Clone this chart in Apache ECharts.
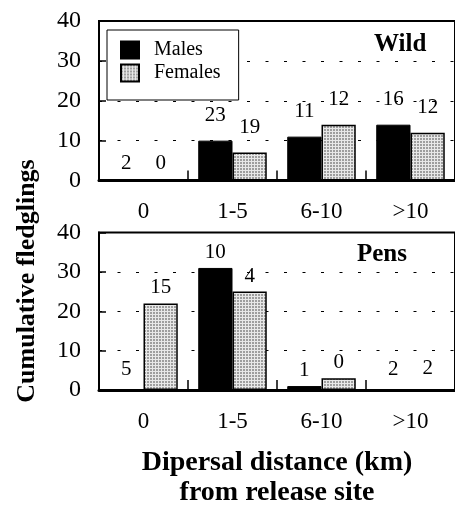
<!DOCTYPE html>
<html>
<head>
<meta charset="utf-8">
<script src="https://cdn.jsdelivr.net/npm/echarts@6/dist/echarts.min.js"></script>
<style>
  html, body { margin: 0; padding: 0; background: #fff; }
  #chart { width: 455px; height: 509px; }
</style>
</head>
<body>
<div id="chart"></div>
<script>
// Distance classes (km from release site)
const categories = ['0', '1-5', '6-10', '>10'];

// Cumulative fledglings (bar heights)
const wildMales = [0, 10, 11, 14];
const wildFemales = [0, 7, 14, 12];
const pensMales = [0, 31, 1, 0];
const pensFemales = [22, 25, 3, 0];

// Sample sizes printed above the bars
const wildMalesN = [2, 23, 11, 16];
const wildFemalesN = [0, 19, 12, 12];
const pensMalesN = [5, 10, 1, 2];
const pensFemalesN = [15, 4, 0, 2];

const yMin = 0, yMax = 40, yStep = 10;

const SERIF = '"Liberation Serif", "Times New Roman", serif';

// Fine stippled grey fill for the female bars
function stipple() {
  const c = document.createElement('canvas');
  c.width = 3; c.height = 3;
  const g = c.getContext('2d');
  g.fillStyle = '#e8e8e8';
  g.fillRect(0, 0, 3, 3);
  g.fillStyle = '#9e9e9e';
  g.fillRect(0, 0, 2, 2);
  return c;
}
const femaleFill = { image: stipple(), repeat: 'repeat' };

const chart = echarts.init(document.getElementById('chart'), null, { renderer: 'canvas' });

const grids = [
  { left: 99, top: 21, width: 358, height: 159.5 },
  { left: 99, top: 232.5, width: 358, height: 159.2 }
];

function xAxisFor(idx, withName) {
  const ax = {
    type: 'category',
    gridIndex: idx,
    data: categories,
    axisLine: { lineStyle: { color: '#000', width: 3 } },
    axisTick: { show: true, inside: true, length: 10, alignWithLabel: false,
                lineStyle: { color: '#000', width: 1.5 } },
    axisLabel: { margin: 20, color: '#000', fontSize: 23, fontFamily: SERIF },
    splitLine: { show: false }
  };
  if (withName) {
    ax.name = 'Dipersal distance (km)\nfrom release site';
    ax.nameLocation = 'middle';
    ax.nameGap = 58;
    ax.nameTextStyle = { color: '#000', fontSize: 28, fontWeight: 'bold',
                         fontFamily: SERIF, lineHeight: 30 };
  }
  return ax;
}

function yAxisFor(idx) {
  return {
    type: 'value',
    gridIndex: idx,
    min: yMin, max: yMax, interval: yStep,
    axisLine: { show: true, lineStyle: { color: '#000', width: 2 } },
    axisTick: { show: true, inside: true, length: 7, lineStyle: { color: '#000', width: 1.5 } },
    axisLabel: { margin: 18, color: '#000', fontSize: 24, fontFamily: SERIF },
    splitLine: { show: true, lineStyle: { color: '#000', width: 1, type: [3, 15.5] } }
  };
}

function barSeries(name, idx, values, counts, fill, borderW, dist, zeroDist) {
  return {
    name: name,
    type: 'bar',
    xAxisIndex: idx,
    yAxisIndex: idx,
    barGap: '0%',
    barCategoryGap: '23%',
    data: values.map(v => ({ value: v, label: { distance: v === 0 ? zeroDist : dist } })),
    itemStyle: { color: fill, borderColor: '#000', borderWidth: borderW },
    label: {
      show: true,
      position: 'top',
      color: '#000',
      fontSize: 21,
      fontFamily: SERIF,
      formatter: p => String(counts[p.dataIndex])
    },
    emphasis: { disabled: true },
    z: 3
  };
}

const option = {
  backgroundColor: '#fff',
  animation: false,
  textStyle: { fontFamily: SERIF },
  grid: grids.map(g => Object.assign({ show: true, borderColor: '#000', borderWidth: 2,
                                       backgroundColor: 'transparent' }, g)),
  title: [
    { text: 'Wild', left: 374, top: 32, padding: 0,
      textStyle: { fontSize: 25, fontWeight: 'bold', color: '#000', fontFamily: SERIF } },
    { text: 'Pens', left: 357, top: 242, padding: 0,
      textStyle: { fontSize: 25, fontWeight: 'bold', color: '#000', fontFamily: SERIF } }
  ],
  legend: {
    data: ['Males', 'Females'],
    orient: 'vertical',
    left: 107, top: 30,
    padding: [10, 18, 17, 13],
    itemWidth: 18, itemHeight: 17, itemGap: 3,
    icon: 'rect',
    borderColor: '#000', borderWidth: 1,
    backgroundColor: '#fff',
    selectedMode: false,
    textStyle: { color: '#000', fontSize: 20, fontFamily: SERIF, padding: [0, 0, 0, 10] }
  },
  xAxis: [xAxisFor(0, false), xAxisFor(1, true)],
  yAxis: [yAxisFor(0), yAxisFor(1)],
  series: [
    barSeries('Males', 0, wildMales, wildMalesN, '#000', 1, 15, 6),
    barSeries('Females', 0, wildFemales, wildFemalesN, femaleFill, 1.5, 15, 6),
    barSeries('Males', 1, pensMales, pensMalesN, '#000', 1, 5, 10),
    barSeries('Females', 1, pensFemales, pensFemalesN, femaleFill, 1.5, 5, 10)
  ],
  graphic: [
    {
      type: 'text',
      x: 27, y: 281,
      rotation: Math.PI / 2,
      style: {
        text: 'Cumulative fledglings',
        fill: '#000',
        font: 'bold 26px ' + SERIF,
        align: 'center',
        verticalAlign: 'middle'
      }
    }
  ]
};

chart.setOption(option);
</script>
</body>
</html>
